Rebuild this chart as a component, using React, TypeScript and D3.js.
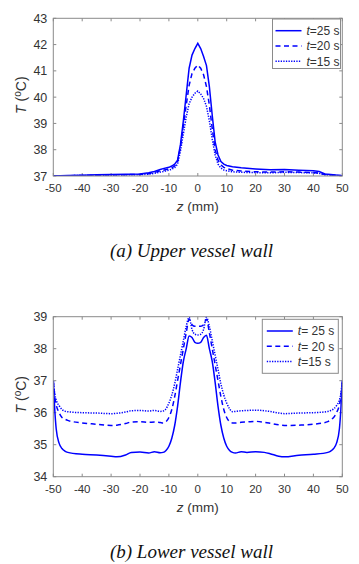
import React from 'react'
import * as d3 from 'd3'

// upper vessel wall
const zUpper = [-50, -45, -40, -35, -30, -25, -20, -17, -15, -13, -12, -10, -9, -8, -7, -6, -5, -4, -3, -2, -1, 0,
  1, 2, 3, 4, 5, 6, 7, 8, 9, 10, 12, 15, 20, 25, 30, 35, 40, 42, 44, 46, 50]
const upper25 = [37.0, 37.02, 37.03, 37.05, 37.06, 37.07, 37.08, 37.12, 37.17, 37.25, 37.28, 37.33, 37.38, 37.45, 37.6, 38.2, 39.1, 40.1, 41.1, 41.6, 41.85, 42.05,
  41.85, 41.55, 41.2, 40.4, 39.3, 38.3, 37.8, 37.55, 37.45, 37.4, 37.35, 37.31, 37.27, 37.24, 37.25, 37.22, 37.2, 37.17, 37.08, 37.06, 37.01]
const upper20 = [37.0, 37.01, 37.02, 37.03, 37.04, 37.05, 37.06, 37.09, 37.13, 37.2, 37.22, 37.27, 37.31, 37.38, 37.55, 38.1, 38.9, 39.7, 40.45, 40.9, 41.1, 41.22,
  41.1, 40.85, 40.4, 39.7, 38.8, 38.0, 37.6, 37.42, 37.33, 37.28, 37.22, 37.19, 37.16, 37.15, 37.16, 37.15, 37.13, 37.11, 37.06, 37.04, 37.01]
const upper15 = [37.0, 37.01, 37.02, 37.02, 37.03, 37.04, 37.05, 37.07, 37.1, 37.15, 37.17, 37.22, 37.26, 37.32, 37.45, 37.95, 38.6, 39.25, 39.75, 40.0, 40.15, 40.23,
  40.12, 39.95, 39.65, 39.1, 38.4, 37.8, 37.45, 37.3, 37.23, 37.2, 37.16, 37.14, 37.13, 37.12, 37.14, 37.13, 37.12, 37.1, 37.05, 37.03, 37.01]

// lower vessel wall
const zLower = [-50, -49.5, -49, -48, -47, -46, -45, -40, -35, -30, -28, -25, -23, -20, -17, -15, -13, -12, -11, -10, -9, -8, -7, -6, -5, -4, -3, -2, -1, 0,
  1, 2, 3, 4, 5, 6, 7, 8, 9, 10, 11, 12, 13, 15, 17, 20, 23, 25, 28, 30, 35, 40, 45, 46, 47, 48, 49, 49.5, 50]
const lower25 = [37.0, 36.1, 35.5, 35.05, 34.88, 34.8, 34.76, 34.7, 34.68, 34.64, 34.62, 34.68, 34.76, 34.77, 34.74, 34.78, 34.75, 34.76, 34.82, 34.95, 35.2, 35.6, 36.2, 36.95, 37.6, 38.0, 38.4, 38.35, 38.2, 38.17,
  38.2, 38.35, 38.42, 38.0, 37.6, 36.95, 36.2, 35.6, 35.2, 34.95, 34.82, 34.76, 34.74, 34.78, 34.76, 34.78, 34.76, 34.72, 34.64, 34.62, 34.67, 34.7, 34.76, 34.8, 34.88, 35.05, 35.5, 36.1, 37.0]
const lower20 = [37.0, 36.5, 36.25, 36.0, 35.85, 35.8, 35.76, 35.68, 35.64, 35.6, 35.61, 35.66, 35.71, 35.72, 35.7, 35.71, 35.69, 35.68, 35.72, 35.85, 36.1, 36.5, 37.0, 37.5, 38.0, 38.5, 38.92, 38.75, 38.7, 38.7,
  38.7, 38.75, 38.92, 38.5, 38.0, 37.5, 37.0, 36.5, 36.1, 35.85, 35.72, 35.68, 35.68, 35.7, 35.71, 35.73, 35.7, 35.67, 35.62, 35.6, 35.61, 35.64, 35.72, 35.78, 35.85, 36.0, 36.25, 36.5, 37.0]
const lower15 = [37.0, 36.6, 36.4, 36.22, 36.1, 36.05, 36.03, 36.0, 35.99, 35.97, 35.98, 36.02, 36.06, 36.07, 36.05, 36.07, 36.04, 36.05, 36.12, 36.3, 36.55, 36.9, 37.35, 37.8, 38.25, 38.7, 38.98, 38.6, 38.45, 38.43,
  38.45, 38.6, 38.98, 38.7, 38.25, 37.8, 37.35, 36.9, 36.55, 36.3, 36.12, 36.03, 36.04, 36.06, 36.07, 36.08, 36.06, 36.04, 35.99, 35.97, 35.99, 36.0, 36.04, 36.07, 36.12, 36.22, 36.4, 36.6, 37.0]

const zTicks = [-50, -40, -30, -20, -10, 0, 10, 20, 30, 40, 50]
const upperTicks = [37, 38, 39, 40, 41, 42, 43]
const lowerTicks = [34, 35, 36, 37, 38, 39]
const upperLegend = ['=25 s', '=20 s', '=15 s']
const lowerLegend = ['= 25 s', '= 20 s', '=15 s']

const BLUE = '#0000ff'
const AXIS = '#8a8a8a'
const TXT = '#333'
const SANS = 'Arial, "Liberation Sans", sans-serif'
const SERIF = '"Times New Roman", "Liberation Serif", serif'
const dashes = ['none', '5,3.5', '1.3,1.3']

function Panel({ z, series, yTicks, top, height, legend, caption, curve }) {
  const left = 53.3
  const right = 342.3
  const bottom = top + height
  const x = d3.scaleLinear().domain([-50, 50]).range([left, right])
  const y = d3.scaleLinear().domain([yTicks[0], yTicks[yTicks.length - 1]]).range([bottom, top])
  const line = d3.line<number>()
    .x((d, i) => x(z[i]))
    .y(d => y(d))
    .curve(curve)
  const tk = 3

  return (
    <g>
      <rect x={left} y={top} width={right - left} height={height} fill="#fff" />
      <defs>
        <clipPath id={'clip' + top}>
          <rect x={left} y={top - 2} width={right - left} height={height + 2} />
        </clipPath>
      </defs>
      {/* ticks on all four sides */}
      {zTicks.map(t => (
        <g key={'x' + t}>
          <line x1={x(t)} x2={x(t)} y1={bottom} y2={bottom - tk} stroke={AXIS} />
          <line x1={x(t)} x2={x(t)} y1={top} y2={top + tk} stroke={AXIS} />
          <text x={x(t)} y={bottom + 16} textAnchor="middle" fontSize={11.5} fill={TXT} fontFamily={SANS}>{t}</text>
        </g>
      ))}
      {yTicks.map(t => (
        <g key={'y' + t}>
          <line x1={left} x2={left + tk} y1={y(t)} y2={y(t)} stroke={AXIS} />
          <line x1={right} x2={right - tk} y1={y(t)} y2={y(t)} stroke={AXIS} />
          <text x={left - 6} y={y(t)} dy="0.36em" textAnchor="end" fontSize={12.5} fill={TXT} fontFamily={SANS}>{t}</text>
        </g>
      ))}
      <g clipPath={`url(#clip${top})`}>
        {series.map((s, i) => (
          <path key={i} d={line(s)} fill="none" stroke={BLUE} strokeWidth={1.5} strokeDasharray={dashes[i]} />
        ))}
      </g>
      <rect x={left} y={top} width={right - left} height={height} fill="none" stroke={AXIS} strokeWidth={1} />

      <text x={(left + right) / 2} y={bottom + 35} textAnchor="middle" fontSize={13.5} fill={TXT} fontFamily={SANS}>
        <tspan fontStyle="italic">z</tspan> (mm)
      </text>
      <text transform={`translate(26,${(top + bottom) / 2 - 2}) rotate(-90)`} textAnchor="middle" fontSize={14} fill={TXT} fontFamily={SANS}>
        <tspan fontStyle="italic">T</tspan> (<tspan fontSize={10} dy={-5}>o</tspan><tspan dy={5}>C)</tspan>
      </text>

      <g transform={`translate(${legend.x},${legend.y})`}>
        <rect x={0} y={0} width={legend.w} height={legend.h} fill="#fff" stroke={AXIS} />
        {legend.labels.map((lab, i) => (
          <g key={lab} transform={`translate(0,${11.7 + i * 15.3})`}>
            <line x1={legend.lx} x2={legend.lx + 26} y1={0} y2={0} stroke={BLUE} strokeWidth={1.5} strokeDasharray={dashes[i]} />
            <text x={legend.lx + 31} y={0} dy="0.36em" fontSize={12} fill={TXT} fontFamily={SANS}>
              <tspan fontStyle="italic">t</tspan>{lab}
            </text>
          </g>
        ))}
      </g>

      <text x={191.5} y={caption.y} textAnchor="middle" fontSize={19} fontStyle="italic" fill="#111" fontFamily={SERIF}>
        {caption.text}
      </text>
    </g>
  )
}

export default function App() {
  return (
    <svg width={359} height={564} style={{ position: 'absolute', left: 0, top: 0, background: '#fff' }}>
      <rect width={359} height={564} fill="#fff" />
      <Panel
        z={zUpper}
        series={[upper25, upper20, upper15]}
        yTicks={upperTicks}
        top={18.3}
        height={157.7}
        curve={d3.curveLinear}
        legend={{ x: 272.5, y: 19, w: 68, h: 49.5, lx: 3, labels: upperLegend }}
        caption={{ y: 257, text: '(a) Upper vessel wall' }}
      />
      <Panel
        z={zLower}
        series={[lower25, lower20, lower15]}
        yTicks={lowerTicks}
        top={316.7}
        height={160}
        curve={d3.curveMonotoneX}
        legend={{ x: 262.3, y: 319.3, w: 76, h: 54, lx: 4.5, labels: lowerLegend }}
        caption={{ y: 557.5, text: '(b) Lower vessel wall' }}
      />
    </svg>
  )
}
